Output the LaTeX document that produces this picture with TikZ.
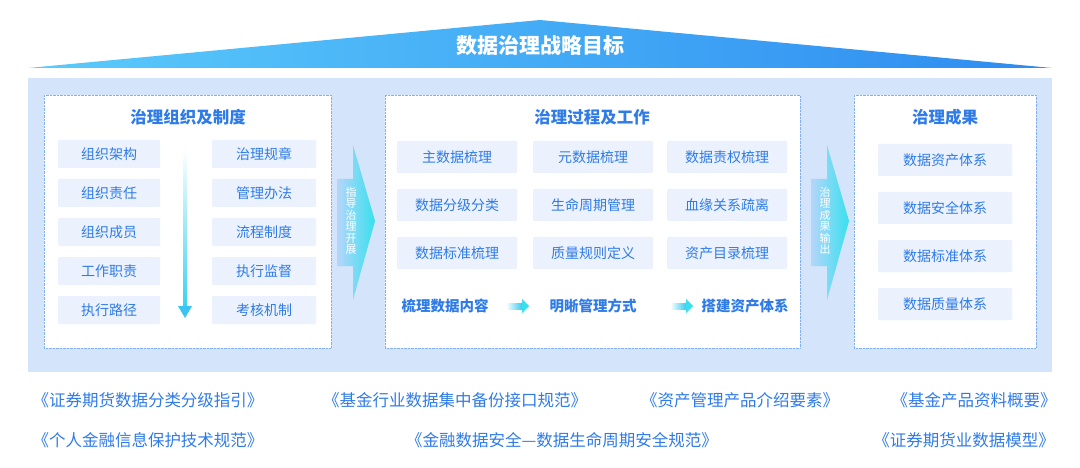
\documentclass[tikz,border=0pt]{standalone}
\usepackage{fontspec}
\setmainfont{Noto Sans CJK SC}
\usetikzlibrary{positioning, arrows.meta}
\definecolor{txtblue}{HTML}{2F7BE8}
\definecolor{boxfill}{HTML}{EBF2FD}
\definecolor{bgblue}{HTML}{D3E4FB}
\definecolor{roofL}{HTML}{5ACBFB}
\definecolor{roofR}{HTML}{2E8BF0}
\definecolor{arrL}{HTML}{3A9BF5}
\definecolor{arrR}{HTML}{38E0EE}
\tikzset{
  panel/.style={draw=txtblue!60, densely dotted, fill=white}, % dotted white panels
  paneltitle/.style={text=txtblue, font=\fontsize{16.5}{16.5}\selectfont\bfseries},
  item/.style={fill=boxfill, text=txtblue, rounded corners=1pt, font=\fontsize{14}{14}\selectfont, inner sep=0pt},
  flowtext/.style={text=txtblue, font=\fontsize{14.5}{15}\selectfont\bfseries},
  book/.style={text=txtblue, font=\fontsize{16.5}{17}\selectfont},
  sidetext/.style={text=white, font=\fontsize{11}{11.5}\selectfont, align=center},
}
\begin{document}
\begin{tikzpicture}[x=1pt, y=-1pt]
    \useasboundingbox (0,0) rectangle (1080,468);

    % roof with the goal
    \shade[left color=roofL, right color=roofR] (28,68) -- (540,20) -- (1052,68) -- cycle;
    \node[text=white, font=\fontsize{21}{21}\selectfont\bfseries] (goal) at (540,46) {数据治理战略目标};

    % background and the three panels
    \fill[bgblue] (28,78) rectangle (1052,372);
    \draw[panel] (44,95) rectangle (331,348);
    \draw[panel] (385,95) rectangle (800,348);
    \draw[panel] (854,95) rectangle (1036,348);
    \node[paneltitle] (t1) at (188,117) {治理组织及制度};
    \node[paneltitle] (t2) at (592,117) {治理过程及工作};
    \node[paneltitle] (t3) at (945,117) {治理成果};

    % panel 1
    \foreach \name/\txt [count=\i] in {a/组织架构, b/组织责任, c/组织成员, d/工作职责, e/执行路径}
      \node[item, minimum width=102pt, minimum height=28pt] (l\name) at (109,115+39*\i) {\txt};
    \foreach \name/\txt [count=\i] in {a/治理规章, b/管理办法, c/流程制度, d/执行监督, e/考核机制}
      \node[item, minimum width=104pt, minimum height=28pt] (r\name) at (264,115+39*\i) {\txt};
    \coordinate (vtop) at (185,148);
    \coordinate (vbot) at (185,318);
    \shade[top color=white, bottom color=arrR!80!arrL] (183.5,148) rectangle (186.5,308);
    \fill[arrR!60!arrL] (178,306) -- (192,306) -- (vbot) -- cycle;

    % panel 2
    \foreach \name/\txt [count=\i] in {a/主数据梳理, b/数据分级分类, c/数据标准梳理}
      \node[item, minimum width=120pt, minimum height=32pt] (p\name) at (457,109+48*\i) {\txt};
    \foreach \name/\txt [count=\i] in {a/元数据梳理, b/生命周期管理, c/质量规则定义}
      \node[item, minimum width=120pt, minimum height=32pt] (q\name) at (593,109+48*\i) {\txt};
    \foreach \name/\txt [count=\i] in {a/数据责权梳理, b/血缘关系疏离, c/资产目录梳理}
      \node[item, minimum width=120pt, minimum height=32pt] (s\name) at (727,109+48*\i) {\txt};
    \node[flowtext] (f1) at (445,306) {梳理数据内容};
    \node[flowtext] (f2) at (593,306) {明晰管理方式};
    \node[flowtext] (f3) at (745,306) {搭建资产体系};
    \foreach \x in {506,670} {
      \shade[left color=white, right color=arrR!70!arrL] (\x,303) rectangle (\x+16,309);
      \fill[arrR] (\x+16,299) -- (\x+23,306) -- (\x+16,313) -- cycle;
    }

    % panel 3
    \foreach \name/\txt [count=\i] in {a/数据资产体系, b/数据安全体系, c/数据标准体系, d/数据质量体系}
      \node[item, minimum width=134pt, minimum height=32pt] (o\name) at (945,112+48*\i) {\txt};

    % big arrows between panels
    \foreach \x/\lbl/\nm in {337/{指\\导\\治\\理\\开\\展}/g1, 811/{治\\理\\成\\果\\输\\出}/g2} {
      \shade[left color=arrL!20!bgblue, right color=arrR]
        (\x,179) -- (\x+16,179) -- (\x+16,145) -- (\x+38,221) -- (\x+16,300) -- (\x+16,266) -- (\x,266) -- cycle;
      \node[sidetext] (\nm) at (\x+14,221) {\lbl};
    }

    % standards
    \node[book] (b1) at (148,400) {《证券期货数据分类分级指引》};
    \node[book] (b2) at (455,400) {《基金行业数据集中备份接口规范》};
    \node[book] (b3) at (740,400) {《资产管理产品介绍要素》};
    \node[book] (b4) at (974,400) {《基金产品资料概要》};
    \node[book] (b5) at (148,440) {《个人金融信息保护技术规范》};
    \node[book] (b6) at (562,440) {《金融数据安全—数据生命周期安全规范》};
    \node[book] (b7) at (964,440) {《证券期货业数据模型》};
\end{tikzpicture}
\end{document}
